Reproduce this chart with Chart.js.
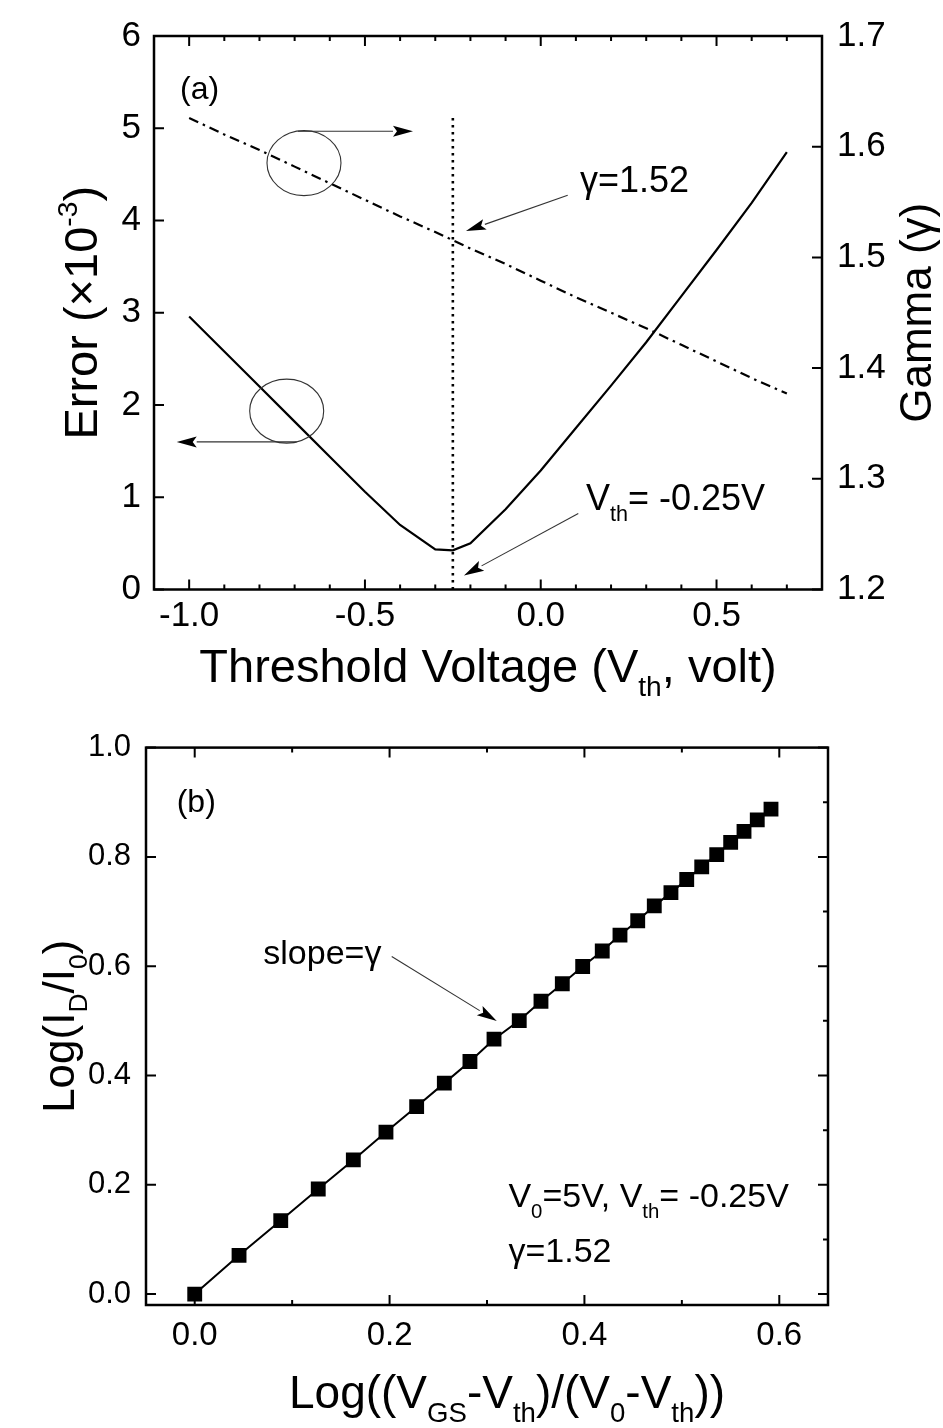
<!DOCTYPE html>
<html><head><meta charset="utf-8">
<script src="https://cdn.jsdelivr.net/npm/chart.js@4.4.1/dist/chart.umd.min.js"></script>
<style>
html,body{margin:0;padding:0;background:#fff;}
#wrap{position:relative;width:943px;height:1428px;background:#fff;}
canvas{position:absolute;left:0;}
#c1{top:0;} #c2{top:714px;}
</style></head><body>
<div id="wrap"><canvas id="c1" width="943" height="714"></canvas><canvas id="c2" width="943" height="714"></canvas></div>
<script>
// ---------- DATA (a) ----------
const vthErr      = [-1.0,-0.9,-0.8,-0.7,-0.6,-0.5,-0.4,-0.3,-0.25,-0.2,-0.1,0.0,0.1,0.2,0.3,0.4,0.5,0.6,0.7];
const errorValues = [2.96,2.58,2.20,1.82,1.44,1.06,0.70,0.435,0.425,0.50,0.87,1.29,1.75,2.21,2.68,3.18,3.68,4.19,4.74];
const vthGamma    = [-1.0,-0.9,-0.8,-0.7,-0.6,-0.5,-0.4,-0.3,-0.2,-0.1,0.0,0.1,0.2,0.3,0.4,0.5,0.6,0.7];
const gammaValues = [1.626,1.611,1.597,1.582,1.567,1.552,1.537,1.523,1.508,1.494,1.479,1.464,1.450,1.436,1.421,1.406,1.391,1.377];
const markerVth   = [-0.25,-0.25];
const markerErr   = [0,5.15];
const topXTicks   = [-1.0,-0.5,0.0,0.5];
const topXMinor   = [-1.1,-0.9,-0.8,-0.7,-0.6,-0.4,-0.3,-0.2,-0.1,0.1,0.2,0.3,0.4,0.6,0.7];
const topYTicks   = [0,1,2,3,4,5,6];
const topY2Ticks  = [1.2,1.3,1.4,1.5,1.6,1.7];
// ---------- DATA (b) ----------
const logVgs = [0.0,0.0455,0.0883,0.1268,0.1628,0.1963,0.2278,0.2562,0.2825,0.3072,0.3331,0.3554,0.3773,0.3982,0.4183,0.4365,0.4547,0.4717,0.4888,0.5050,0.5204,0.5358,0.5501,0.5638,0.5774,0.5915];
const logId  = [0.0,0.0709,0.1345,0.1922,0.2455,0.2964,0.3431,0.3860,0.4255,0.4664,0.5005,0.5358,0.5678,0.5995,0.6278,0.6569,0.6831,0.7104,0.7345,0.7587,0.7818,0.8042,0.8267,0.8467,0.8678,0.8873];
const botXTicks = [0.0,0.2,0.4,0.6];
const botXMinor = [0.1,0.3,0.5];
const botYTicks = [0.0,0.2,0.4,0.6,0.8,1.0];
const botYMinor = [0.1,0.3,0.5,0.7,0.9];

const FAM = '"Liberation Sans", Arial, Helvetica, sans-serif';
const fnt = s => s + 'px ' + FAM;
Chart.defaults.color = '#000';

function rich(ctx, parts, x, y, size, align, rot) {
  ctx.save();
  ctx.translate(x, y);
  if (rot) ctx.rotate(rot);
  ctx.textAlign = 'left'; ctx.textBaseline = 'alphabetic'; ctx.fillStyle = '#000';
  let w = 0;
  parts.forEach(p => { ctx.font = fnt(p.k ? size * 0.6 : size); w += ctx.measureText(p.t).width; });
  let cx = align === 'center' ? -w / 2 : (align === 'right' ? -w : 0);
  parts.forEach(p => {
    const s = p.k ? size * 0.6 : size;
    ctx.font = fnt(s);
    const dy = p.k === 'sub' ? size * 0.3 : (p.k === 'sup' ? -size * 0.42 : 0);
    ctx.fillText(p.t, cx, dy);
    cx += ctx.measureText(p.t).width;
  });
  ctx.restore();
}
function arrow(ctx, x1, y1, x2, y2) {
  const head = 20, hw = 5.5;
  const a = Math.atan2(y2 - y1, x2 - x1);
  const bx = x2 - head * Math.cos(a), by = y2 - head * Math.sin(a);
  ctx.beginPath(); ctx.moveTo(x1, y1); ctx.lineTo(bx, by); ctx.stroke();
  ctx.beginPath(); ctx.moveTo(x2, y2);
  ctx.lineTo(bx - hw * Math.sin(a), by + hw * Math.cos(a));
  ctx.lineTo(x2 - head * 0.8 * Math.cos(a), y2 - head * 0.8 * Math.sin(a));
  ctx.lineTo(bx + hw * Math.sin(a), by - hw * Math.cos(a));
  ctx.closePath(); ctx.fill();
}
function frame(chart, xs, ys, yR, xMaj, xMin, yMaj, yMin, yRMaj, yRMin) {
  const ctx = chart.ctx, a = chart.chartArea;
  ctx.save();
  ctx.strokeStyle = '#000'; ctx.lineWidth = 2.5;
  ctx.strokeRect(a.left, a.top, a.right - a.left, a.bottom - a.top);
  ctx.lineWidth = 2;
  const L = 10, l = 5;
  ctx.beginPath();
  xMaj.concat(xMin).forEach((v, i) => {
    const len = i < xMaj.length ? L : l;
    const p = xs.getPixelForValue(v);
    ctx.moveTo(p, a.bottom); ctx.lineTo(p, a.bottom - len);
    ctx.moveTo(p, a.top); ctx.lineTo(p, a.top + len);
  });
  yMaj.concat(yMin).forEach((v, i) => {
    const len = i < yMaj.length ? L : l;
    const p = ys.getPixelForValue(v);
    ctx.moveTo(a.left, p); ctx.lineTo(a.left + len, p);
  });
  yRMaj.concat(yRMin).forEach((v, i) => {
    const len = i < yRMaj.length ? L : l;
    const p = yR.getPixelForValue(v);
    ctx.moveTo(a.right, p); ctx.lineTo(a.right - len, p);
  });
  ctx.stroke();
  ctx.restore();
}
const setTicks = arr => s => { s.ticks = arr.map(v => ({ value: v })); };
const noGrid = { display: false, drawTicks: false };

// ---------------- Chart (a) ----------------
const plugA = {
  id: 'plugA',
  afterDraw(chart) {
    const ctx = chart.ctx, x = chart.scales.x, y = chart.scales.y, y2 = chart.scales.y2;
    frame(chart, x, y, y2, topXTicks, topXMinor, topYTicks, [], topY2Ticks, []);
    const P = (vx, vy) => [x.getPixelForValue(vx), y.getPixelForValue(vy)];
    ctx.save();
    ctx.strokeStyle = '#333'; ctx.fillStyle = '#000'; ctx.lineWidth = 1.1;
    let c = P(-0.6734, 4.622);
    ctx.beginPath(); ctx.ellipse(c[0], c[1], 37, 32.5, 0, 0, 2 * Math.PI); ctx.stroke();
    c = P(-0.7226, 1.934);
    ctx.beginPath(); ctx.ellipse(c[0], c[1], 37, 32, 0, 0, 2 * Math.PI); ctx.stroke();
    let s = P(-0.6904, 4.968), t = P(-0.3634, 4.968); arrow(ctx, s[0], s[1], t[0], t[1]);
    s = P(-0.694, 1.600); t = P(-1.0354, 1.600); arrow(ctx, s[0], s[1], t[0], t[1]);
    s = P(0.0767, 4.273); t = P(-0.2126, 3.886); arrow(ctx, s[0], s[1], t[0], t[1]);
    s = P(0.1068, 0.823); t = P(-0.2183, 0.153); arrow(ctx, s[0], s[1], t[0], t[1]);
    ctx.restore();
    let p = P(-1.026, 5.317); rich(ctx, [{ t: '(a)' }], p[0], p[1], 32, 'left');
    p = P(0.1116, 4.312); rich(ctx, [{ t: 'γ=1.52' }], p[0], p[1], 36, 'left');
    p = P(0.1287, 0.860); rich(ctx, [{ t: 'V' }, { t: 'th', k: 'sub' }, { t: '= -0.25V' }], p[0], p[1], 36, 'left');
    const a = chart.chartArea;
    rich(ctx, [{ t: 'Threshold Voltage (V' }, { t: 'th', k: 'sub' }, { t: ', volt)' }], (a.left + a.right) / 2, 682, 47, 'center');
    rich(ctx, [{ t: 'Error (×10' }, { t: '-3', k: 'sup' }, { t: ')' }], 97, (a.top + a.bottom) / 2, 47, 'center', -Math.PI / 2);
    rich(ctx, [{ t: 'Gamma (γ)' }], 931, (a.top + a.bottom) / 2, 44, 'center', -Math.PI / 2);
  }
};
new Chart(document.getElementById('c1'), {
  type: 'scatter',
  data: { datasets: [
    { data: vthErr.map((v, i) => ({ x: v, y: errorValues[i] })), showLine: true, borderColor: '#000', borderWidth: 2.2, pointRadius: 0, yAxisID: 'y' },
    { data: vthGamma.map((v, i) => ({ x: v, y: gammaValues[i] })), showLine: true, borderColor: '#000', borderWidth: 2.2, borderDash: [10, 5, 2.5, 5], pointRadius: 0, yAxisID: 'y2' },
    { data: markerVth.map((v, i) => ({ x: v, y: markerErr[i] })), showLine: true, borderColor: '#000', borderWidth: 2.6, borderDash: [2.6, 4.4], pointRadius: 0, yAxisID: 'y' }
  ] },
  options: {
    responsive: false, animation: false, devicePixelRatio: 1,
    layout: { padding: { top: 22.5, left: 0, right: 0, bottom: 0 } },
    plugins: { legend: { display: false }, tooltip: { enabled: false } },
    scales: {
      x: { type: 'linear', position: 'bottom', min: -1.1, max: 0.8, grid: noGrid, border: { display: false },
        afterBuildTicks: setTicks(topXTicks), afterFit: s => { s.height = 124.5; },
        ticks: { font: { size: 35, family: FAM }, color: '#000', padding: 6, autoSkip: false, maxRotation: 0, callback: v => v.toFixed(1) } },
      y: { type: 'linear', position: 'left', min: 0, max: 6, grid: noGrid, border: { display: false },
        afterBuildTicks: setTicks(topYTicks), afterFit: s => { s.width = 154; },
        ticks: { font: { size: 35, family: FAM }, color: '#000', padding: 13, autoSkip: false, callback: v => v.toFixed(0) } },
      y2: { type: 'linear', position: 'right', min: 1.2, max: 1.7, grid: noGrid, border: { display: false },
        afterBuildTicks: setTicks(topY2Ticks), afterFit: s => { s.width = 121; },
        ticks: { font: { size: 35, family: FAM }, color: '#000', padding: 15, autoSkip: false, callback: v => v.toFixed(1) } }
    }
  },
  plugins: [plugA]
});

// ---------------- Chart (b) ----------------
const plugB = {
  id: 'plugB',
  afterDraw(chart) {
    const ctx = chart.ctx, x = chart.scales.x, y = chart.scales.y;
    frame(chart, x, y, y, botXTicks, botXMinor, botYTicks, [], botYTicks, botYMinor);
    const P = (vx, vy) => [x.getPixelForValue(vx), y.getPixelForValue(vy)];
    ctx.save();
    ctx.strokeStyle = '#333'; ctx.fillStyle = '#000'; ctx.lineWidth = 1.1;
    const s = P(0.2022, 0.6176), t = P(0.310, 0.4995); arrow(ctx, s[0], s[1], t[0], t[1]);
    ctx.restore();
    let p = P(-0.0185, 0.882); rich(ctx, [{ t: '(b)' }], p[0], p[1], 32, 'left');
    p = P(0.0704, 0.604); rich(ctx, [{ t: 'slope=γ' }], p[0], p[1], 34, 'left');
    p = P(0.322, 0.1587); rich(ctx, [{ t: 'V' }, { t: '0', k: 'sub' }, { t: '=5V, V' }, { t: 'th', k: 'sub' }, { t: '= -0.25V' }], p[0], p[1], 34, 'left');
    p = P(0.322, 0.0587); rich(ctx, [{ t: 'γ=1.52' }], p[0], p[1], 34, 'left');
    const a = chart.chartArea;
    rich(ctx, [{ t: 'Log((V' }, { t: 'GS', k: 'sub' }, { t: '-V' }, { t: 'th', k: 'sub' }, { t: ')/(V' }, { t: '0', k: 'sub' }, { t: '-V' }, { t: 'th', k: 'sub' }, { t: '))' }], 507, 694, 46, 'center');
    rich(ctx, [{ t: 'Log(I' }, { t: 'D', k: 'sub' }, { t: '/I' }, { t: '0', k: 'sub' }, { t: ')' }], 74, (a.top + a.bottom) / 2, 44, 'center', -Math.PI / 2);
  }
};
new Chart(document.getElementById('c2'), {
  type: 'scatter',
  data: { datasets: [
    { data: logVgs.map((v, i) => ({ x: v, y: logId[i] })), showLine: true, borderColor: '#000', borderWidth: 2,
      pointStyle: 'rect', pointRadius: 10.5, pointBackgroundColor: '#000', pointBorderColor: '#000', pointBorderWidth: 0 }
  ] },
  options: {
    responsive: false, animation: false, devicePixelRatio: 1,
    layout: { padding: { top: 30, left: 0, right: 115, bottom: 0 } },
    plugins: { legend: { display: false }, tooltip: { enabled: false } },
    scales: {
      x: { type: 'linear', position: 'bottom', min: -0.05, max: 0.65, grid: noGrid, border: { display: false },
        afterBuildTicks: setTicks(botXTicks), afterFit: s => { s.height = 123; },
        ticks: { font: { size: 33, family: FAM }, color: '#000', padding: 11, autoSkip: false, maxRotation: 0, callback: v => v.toFixed(1) } },
      y: { type: 'linear', position: 'left', min: -0.02, max: 1.0, grid: noGrid, border: { display: false },
        afterBuildTicks: setTicks(botYTicks), afterFit: s => { s.width = 146; },
        ticks: { font: { size: 31, family: FAM }, color: '#000', padding: 15, autoSkip: false, callback: v => v.toFixed(1) } }
    }
  },
  plugins: [plugB]
});
</script>
</body></html>
